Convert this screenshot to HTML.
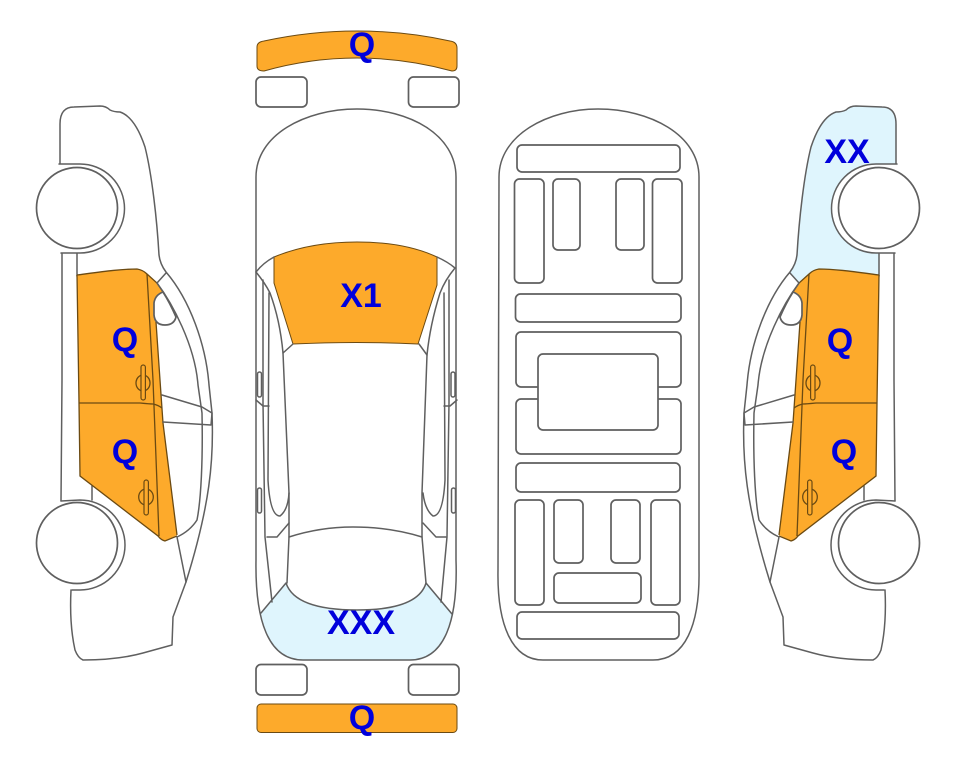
<!DOCTYPE html>
<html>
<head>
<meta charset="utf-8">
<style>
html,body{margin:0;padding:0;background:#fff;width:963px;height:768px;overflow:hidden}
svg{display:block}
.l{fill:none;stroke:#5f5f5f;stroke-width:1.5;stroke-linejoin:round;stroke-linecap:round}
.w{fill:#fff;stroke:#5f5f5f;stroke-width:1.7}
.o{fill:#fdaa2b;stroke:none}
.d{fill:none;stroke:#6b4a12;stroke-width:1.3}
.b{fill:#dff5fd;stroke:none}
text{font-family:"Liberation Sans",sans-serif;font-weight:bold;font-size:34px;fill:#0000dc;text-anchor:middle}
</style>
</head>
<body>
<svg width="963" height="768" viewBox="0 0 963 768" xmlns="http://www.w3.org/2000/svg">
<defs>
<g id="side">
  <path class="l" d="M60 166 L60 124 Q60 107 74 107 L100 106 Q106 106 110 110 Q114 112 120 112 C132 116 140 132 145 147 C152 175 157 220 159 255 Q160 264 166 272 C190 300 206 345 209 385 L212 413 C214 460 210 505 186 582 L173 617 L172 645 L143 653 C125 658 105 660 83 660 Q78 658 75 650 C71 632 70 610 71 590"/>
  <path class="l" d="M62 253 L62 380 L61 501"/>
  <path class="l" d="M77 253 L77 276"/>
  <path class="l" d="M92 486 L92 500"/>
  <path class="o" d="M77 275 C100 272 120 269 137 269 Q143 270 147 274 L157 283 L163 292 L156 322 L160 380 L163 423 L177 535 L165 541 Q161 540 158 536 L80 476 L79 403 Z"/>
  <path class="d" d="M77 275 C100 272 120 269 137 269 Q143 270 147 274 L157 283 L163 292"/>
  <path class="d" d="M77 275 L79 403 L80 476 L158 536 Q161 540 165 541 L177 536"/>
  <path class="d" d="M156 322 L160 380 L163 423 L177 535"/>
  <path class="d" d="M147 274 L153 380 L159 536"/>
  <path class="d" d="M79 403 L140 403 Q150 404 153 404 Q158 405 162 408"/>
  <ellipse cx="143" cy="383" rx="7" ry="8" class="d"/>
  <rect x="141" y="365" width="4.4" height="35" rx="2.2" fill="#fdaa2b" stroke="#6b4a12" stroke-width="1.2"/>
  <ellipse cx="146" cy="497" rx="7.3" ry="8" class="d"/>
  <rect x="144" y="480" width="4.4" height="35" rx="2.2" fill="#fdaa2b" stroke="#6b4a12" stroke-width="1.2"/>
  <path class="w" d="M163 292 Q155 295 154 303 L154 315 Q155 325 165 325 Q174 325 176 317 Q170 303 163 292 Z"/>
  <path class="l" d="M166 273 L157 283 C172 303 195 345 198 385 L202 413 C203 460 201 500 197 520 Q190 531 177 537 L186 582"/>
  <path class="l" d="M162 395 L202 407 L212 413 L211 425 L163 422"/>
  <path class="w" d="M59 164 L80 164 A44 44 0 0 1 80 253 L61 253 L59 164 Z" style="stroke:none"/>
  <path class="l" d="M59 164 L80 164 A44.500 44.500 0 0 1 80 253 L61 253"/>
  <path class="w" d="M61 501 L80 500 A44.500 44.500 0 0 1 80 590 L72 590 Z" style="stroke:none"/>
  <path class="l" d="M61 501 L80 500 A44.500 44.500 0 0 1 80 590 L72 590"/>
  <circle cx="77" cy="208" r="40.500" class="w"/>
  <circle cx="77" cy="543" r="40.500" class="w"/>
</g>
</defs>

<!-- right car blue panel (mirrored coordinates) -->
<g transform="translate(956,0) scale(-1,1)">
  <path class="b" d="M60 166 L60 124 Q60 107 74 107 L100 106 Q106 106 110 110 Q114 112 120 112 C132 116 140 132 145 147 C152 175 157 220 159 255 Q160 264 166 272 L157 283 L147 274 L137 269 L77 276 L77 253 Z"/>
</g>

<use href="#side"/>
<use href="#side" transform="translate(956,0) scale(-1,1)"/>

<!-- top view: bumpers -->
<path class="o" d="M257 47 Q257 42 264 41 Q310 31 357 31 Q405 31 450 41 Q457 42 457 48 L457 66 Q457 71 452 71 Q405 58 357 58 Q310 58 264 71 Q257 71 257 66 Z" style="stroke:#6b4a12;stroke-width:1"/>
<rect x="256" y="77" width="51" height="30" rx="5" class="w"/>
<rect x="408.500" y="77" width="50.500" height="30" rx="5" class="w"/>
<rect x="256" y="664.500" width="51" height="30.500" rx="5" class="w"/>
<rect x="408.500" y="664.500" width="50.500" height="30.500" rx="5" class="w"/>
<rect x="257" y="704" width="200" height="28.500" rx="4" class="o" style="stroke:#6b4a12;stroke-width:1"/>

<!-- top view: body -->
<path class="b" d="M261 613 L286 583 Q295 610 357 610 Q418 610 426 583 L452 614 Q445 660 410 660 L303 660 Q270 660 261 613 Z"/>
<path class="l" d="M256 177 C256 135 305 109 357 109 C410 109 456 135 456 177 L456 560 C458 620 445 660 410 660 L303 660 C268 660 255 620 256 560 Z"/>
<path class="o" d="M274 257 Q310 242 357 242 Q405 242 437 257 L437 285 L418 344 Q357 341 293 344 L274 283 Z" style="stroke:#6b4a12;stroke-width:1"/>
<path class="l" d="M256 272 Q263 263 274 257 M437 257 Q448 262 455 268"/>
<path class="l" d="M256 272 Q265 283 270 293 Q280 320 283 353 L293 344"/>
<path class="l" d="M455 268 Q445 280 440 293 Q430 325 427 355 L419 344"/>
<path class="l" d="M283 353 L289 493 L289 537 L287 583 M427 355 L422 493 L422 537 L426 583"/>
<path class="l" d="M263 280 L263 403 L265 537 L272 602"/>
<path class="l" d="M449 280 L449 403 L447 537 L441 602"/>
<path class="l" d="M269 293 L268 480 Q270 516 280 516 Q288 510 289 493"/>
<path class="l" d="M444 293 L445 480 Q443 516 433 516 Q425 510 423 493"/>
<path class="l" d="M256 400 L263 406 L269 406 M457 400 L450 406 L444 406"/>
<path class="l" d="M267 537 L277 537 L289 523 M446 537 L436 537 L423 523"/>
<path class="l" d="M289 537 Q320 527 353 527 Q390 527 422 537"/>
<path class="l" d="M261 613 L286 583 Q295 610 357 610 Q418 610 426 583 L452 614"/>
<rect x="257.500" y="372" width="4" height="25" rx="2" class="l"/>
<rect x="257.500" y="488" width="4" height="25" rx="2" class="l"/>
<rect x="451" y="372" width="4" height="25" rx="2" class="l"/>
<rect x="451.500" y="488" width="4" height="25" rx="2" class="l"/>

<!-- underbody -->
<path class="l" d="M499 177 C499 135 548 109 598 109 C650 109 699 135 699 177 L699 570 C700 625 685 660 653 660 L543 660 C512 660 497 625 498 570 Z"/>
<rect x="517" y="145" width="163" height="27" rx="5" class="w"/>
<rect x="514.500" y="179" width="29.500" height="104" rx="5" class="w"/>
<rect x="553" y="179" width="27" height="71" rx="5" class="w"/>
<rect x="616" y="179" width="28" height="71" rx="5" class="w"/>
<rect x="652.500" y="179" width="29.500" height="104" rx="5" class="w"/>
<rect x="515.500" y="294" width="165.500" height="28" rx="5" class="w"/>
<rect x="516" y="332" width="165" height="55" rx="5" class="w"/>
<rect x="516" y="399" width="165" height="55" rx="5" class="w"/>
<rect x="538" y="354" width="120" height="76" rx="5" class="w"/>
<rect x="516" y="463" width="164" height="29" rx="5" class="w"/>
<rect x="515" y="500" width="29" height="105" rx="5" class="w"/>
<rect x="554" y="500" width="29" height="63" rx="5" class="w"/>
<rect x="611" y="500" width="29" height="63" rx="5" class="w"/>
<rect x="651" y="500" width="29" height="105" rx="5" class="w"/>
<rect x="554" y="573" width="87" height="30" rx="5" class="w"/>
<rect x="517" y="612" width="162" height="27" rx="5" class="w"/>

<!-- labels -->
<text x="362" y="56">Q</text>
<text x="361" y="307">X1</text>
<text x="361" y="634">XXX</text>
<text x="362" y="729">Q</text>
<text x="125" y="351">Q</text>
<text x="125" y="463">Q</text>
<text x="847" y="163">XX</text>
<text x="840" y="352">Q</text>
<text x="844" y="463">Q</text>
</svg>
</body>
</html>
